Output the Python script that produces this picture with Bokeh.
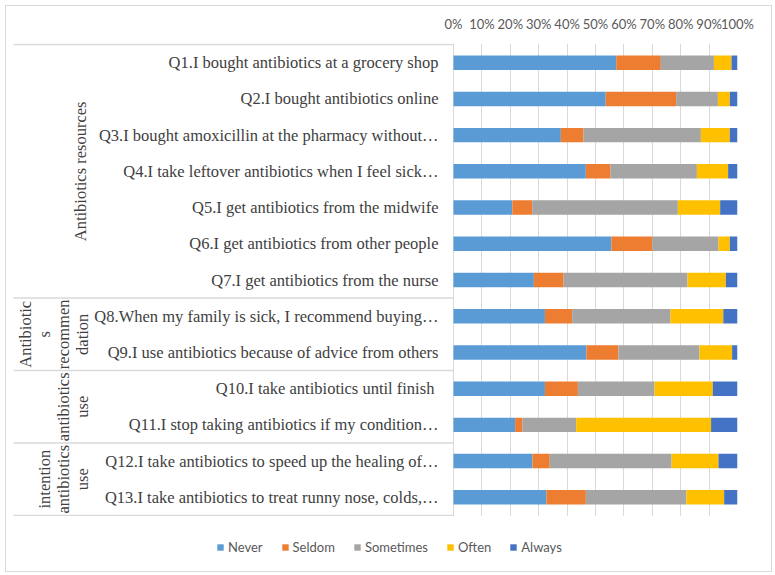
import math
from bokeh.plotting import figure
from bokeh.layouts import column
from bokeh.models import (FactorRange, Range1d, FixedTicker, PrintfTickFormatter,
                          Legend, LegendItem, ColumnDataSource)
from bokeh.core.properties import value
from bokeh.embed import file_html
from bokeh.resources import INLINE

questions = [
    "Q1.I bought antibiotics at a grocery shop",
    "Q2.I bought antibiotics online",
    "Q3.I bought amoxicillin at the pharmacy without\u2026",
    "Q4.I take leftover antibiotics when I feel sick\u2026",
    "Q5.I get antibiotics from the midwife",
    "Q6.I get antibiotics from other people",
    "Q7.I get antibiotics from the nurse",
    "Q8.When my family is sick, I recommend buying\u2026",
    "Q9.I use antibiotics because of advice from others",
    "Q10.I take antibiotics until finish ",
    "Q11.I stop taking antibiotics if my condition\u2026",
    "Q12.I take antibiotics to speed up the healing of\u2026",
    "Q13.I take antibiotics to treat runny nose, colds,\u2026",
]
levels = ["Never", "Seldom", "Sometimes", "Often", "Always"]
never = [57.3, 53.6, 37.8, 46.6, 20.7, 55.6, 28.3, 32.2, 46.8, 32.2, 21.7, 27.8, 32.7]
seldom = [15.7, 24.8, 8.0, 8.7, 7.0, 14.4, 10.5, 9.6, 11.3, 11.6, 2.6, 6.1, 13.9]
sometimes = [18.7, 14.7, 41.3, 30.4, 51.3, 23.3, 43.6, 34.6, 28.5, 27.0, 18.9, 42.9, 35.4]
often = [6.2, 4.2, 10.2, 11.0, 14.9, 4.0, 13.5, 18.6, 11.5, 20.5, 47.5, 16.5, 13.3]
always = [2.1, 2.7, 2.7, 3.3, 6.1, 2.7, 4.1, 5.0, 1.9, 8.7, 9.3, 6.7, 4.7]

group_lines = [
    ["Antibiotics resources"],
    ["Antibiotic", "s", "recommen", "dation"],
    ["antibiotics", "use"],
    ["intention", "antibiotics", "use"],
]
group_sizes = [7, 2, 2, 2]
x_ticks = list(range(0, 101, 10))

colors = ["#5B9BD5", "#ED7D31", "#A5A5A5", "#FFC000", "#4472C4"]
GRID = "#D9D9D9"
TXT = "#404040"
AX = "#595959"


def px_to_x(px):
    # reference pixel column -> data x (0% at 453 px, 100% at 737 px)
    return (px - 453) / 2.84


source = ColumnDataSource(dict(q=questions, Never=never, Seldom=seldom,
                               Sometimes=sometimes, Often=often, Always=always))

W = 765
p = figure(width=W, height=510, output_backend="svg", toolbar_location=None,
           y_range=FactorRange(*questions[::-1], range_padding=0.03, range_padding_units="absolute"),
           x_range=Range1d(px_to_x(8), 100), x_axis_location="above", y_axis_location=None,
           min_border_left=2, min_border_right=34, min_border_top=37, min_border_bottom=0)
p.outline_line_color = None

renderers = p.hbar_stack(levels, y="q", height=0.4, color=colors, line_color=None, source=source)

# top axis
p.xaxis.ticker = FixedTicker(ticks=x_ticks)
p.xaxis.formatter = PrintfTickFormatter(format="%d%%")
p.xaxis.axis_line_color = None
p.xaxis.major_tick_line_color = None
p.xaxis.major_tick_out = 0
p.xaxis.minor_tick_line_color = None
p.xaxis.major_label_text_font = "Lato"
p.xaxis.major_label_text_font_size = "13px"
p.xaxis.major_label_text_color = AX
p.xaxis.major_label_standoff = 12
p.xgrid.grid_line_color = GRID
p.ygrid.grid_line_color = None

# question labels
p.text(x=[px_to_x(438)] * len(questions), y=questions, text=questions,
       text_align="right", text_baseline="middle",
       text_font=value("Liberation Serif"), text_font_size="16.5px", text_color=TXT)

# group separators and group labels
n = len(questions)
bounds = [n]
acc = n
for s in group_sizes:
    acc -= s
    bounds.append(acc)
p.segment(x0=[px_to_x(13)] * len(bounds), x1=[0] * len(bounds), y0=bounds, y1=bounds,
          line_color=GRID, line_width=1.5)

line_x = [25, 44, 63, 82]
gx, gy, gt = [], [], []
for gi, lines in enumerate(group_lines):
    yc = (bounds[gi] + bounds[gi + 1]) / 2
    k = len(lines)
    xs = line_x[-k:] if k > 1 else [80]
    for t, xp in zip(lines, xs):
        gx.append(px_to_x(xp))
        gy.append(yc)
        gt.append(t)
p.text(x=gx, y=gy, text=gt, angle=math.pi / 2, text_align="center", text_baseline="middle",
       text_font=value("Liberation Serif"), text_font_size="16.5px", text_color=TXT)

# legend strip (its swatch renderers sit outside the visible range)
lg = figure(width=W, height=55, output_backend="svg", toolbar_location=None,
            x_range=Range1d(0, 1), y_range=Range1d(0, 1), x_axis_location=None, y_axis_location=None,
            min_border_left=0, min_border_right=0, min_border_top=0, min_border_bottom=0)
lg.outline_line_color = None
lg.grid.visible = False
lg_rs = [lg.hbar(y=[-5], left=[0], right=[1], height=0.4, color=c, line_color=None) for c in colors]
legend = Legend(items=[LegendItem(label=l, renderers=[r]) for l, r in zip(levels, lg_rs)],
                orientation="horizontal", location=(208, 16),
                glyph_width=8, glyph_height=8, label_standoff=4, spacing=18,
                padding=0, margin=0, border_line_color=None, background_fill_alpha=0,
                label_text_font="Lato", label_text_font_size="13px", label_text_color=AX)
lg.add_layout(legend)

layout = column(p, lg, spacing=0, styles={"margin": "5px", "border": "1px solid #D9D9D9"})

open("out.html", "w").write(file_html(layout, INLINE))
